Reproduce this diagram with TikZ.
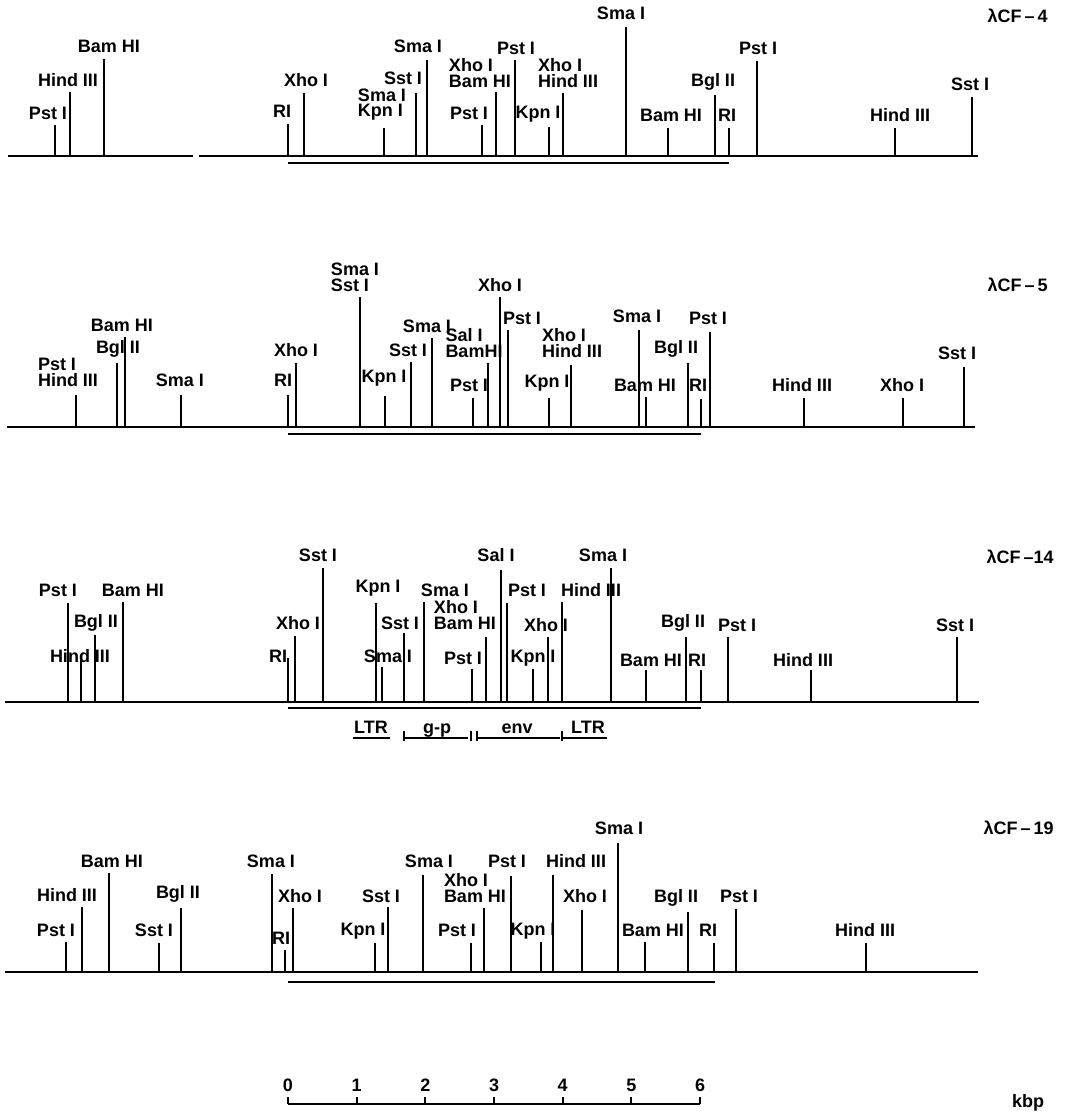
\documentclass[tikz,border=0pt]{standalone}
\usepackage{fontspec}
\setmainfont{Liberation Sans}
\begin{document}
\begin{tikzpicture}[x=0.5pt, y=-0.5pt,
  font={\bfseries\fontsize{9}{7.9}\selectfont},
  map/.style={line width=1.2pt},
  site/.style={line width=1pt},
  clone/.style={line width=0.9pt},
  enzyme/.style={anchor=south, inner sep=0pt, align=left},
  region/.style={anchor=base, inner sep=0pt},
  title/.style={anchor=east, inner sep=0pt}]
\useasboundingbox (0,0) rectangle (1065,1112);

% lambda CF-4
\draw[map] (8,156) -- (193,156) (199,156) -- (978,156);
\draw[clone] (288,163) -- (729,163);
\foreach \x/\t/\lx/\ly/\txt [count=\i] in {
  55/125/48/120/Pst I, 70/92/68/87/Hind III, 104/59/109/53/Bam HI,
  288/124/282/118/RI, 304/93/306/87/Xho I, 384/128/382/121/{Sma I\\Kpn I},
  416/93/403/85/Sst I, 427/60/418/53/Sma I, 482/125/469/120/Pst I,
  496/92/480/88/{Xho I\\Bam HI}, 515/60/516/55/Pst I, 549/127/538/123/Kpn I,
  563/93/568/88/{Xho I\\Hind III}, 626/27/621/20/Sma I, 668/128/671/122/Bam HI,
  715/95/713/91/Bgl II, 729/128/727/122/RI, 757/61/758/55/Pst I,
  895/128/900/122/Hind III, 972/97/970/91/Sst I}{
  \draw[site] (\x,156) -- (\x,\t);
  \node[enzyme] (a\i) at (\lx,\ly) {\txt};
}
\node[title] (cf4) at (1048,16) {λCF\,–\,4};

% lambda CF-5
\draw[map] (7,427) -- (975,427);
\draw[clone] (288,434) -- (701,434);
\foreach \x/\t/\lx/\ly/\txt [count=\i] in {
  76/395/68/387/{Pst I\\Hind III}, 117/363/118/358/Bgl II, 125/337/122/332/Bam HI,
  181/395/180/387/Sma I, 288/395/283/387/RI, 296/363/296/357/Xho I,
  360/297/355/292/{Sma I\\Sst I}, 385/396/384/387/Kpn I, 411/362/408/357/Sst I,
  432/338/427/333/Sma I, 473/398/469/392/Pst I, 488/363/474/358/{Sal I\\BamHI},
  500/297/500/292/Xho I, 508/330/522/325/Pst I, 549/398/547/392/Kpn I,
  571/365/572/358/{Xho I\\Hind III}, 639/330/637/323/Sma I, 646/397/645/392/Bam HI,
  688/363/676/358/Bgl II, 701/399/698/392/RI, 710/332/708/325/Pst I,
  804/398/802/392/Hind III, 903/398/902/392/Xho I, 964/367/957/360/Sst I}{
  \draw[site] (\x,427) -- (\x,\t);
  \node[enzyme] (b\i) at (\lx,\ly) {\txt};
}
\node[title] (cf5) at (1048,285) {λCF\,–\,5};

% lambda CF-14
\draw[map] (5,702) -- (979,702);
\draw[clone] (288,708) -- (701,708);
\foreach \x/\t/\lx/\ly/\txt [count=\i] in {
  68/603/58/597/Pst I, 81/658/80/663/Hind III, 95/635/96/632/Bgl II,
  123/602/133/597/Bam HI, 288/658/278/663/RI, 295/636/298/630/Xho I,
  323/568/318/562/Sst I, 376/603/378/597/Kpn I, 382/667/388/663/Sma I,
  404/633/400/630/Sst I, 424/602/445/597/Sma I, 486/637/465/630/{Xho I\\Bam HI},
  472/669/463/665/Pst I, 501/570/496/562/Sal I, 507/603/527/597/Pst I,
  533/669/533/667/Kpn I, 548/637/546/632/Xho I, 562/602/591/597/Hind III,
  611/568/603/562/Sma I, 646/670/651/667/Bam HI, 686/637/683/632/Bgl II,
  701/670/697/667/RI, 728/637/737/632/Pst I, 811/670/803/667/Hind III,
  957/637/955/632/Sst I}{
  \draw[site] (\x,702) -- (\x,\t);
  \node[enzyme] (c\i) at (\lx,\ly) {\txt};
}
\node[title] (cf14) at (1054,557) {λCF\,–14};
% genome regions
\node[region] (ltr1) at (371,733) {LTR};
\node[region] (gp) at (437,733) {g-p};
\node[region] (env) at (517,733) {env};
\node[region] (ltr2) at (588,733) {LTR};
\draw[clone] (353,738) -- (390,738) (404,738) -- (468,738)
  (477,738) -- (560,738) (562,738) -- (607,738);
\foreach \g in {404,471,477,562}
  \draw[clone] (\g,731) -- (\g,741);

% lambda CF-19
\draw[map] (5,972) -- (978,972);
\draw[clone] (288,982) -- (715,982);
\foreach \x/\t/\lx/\ly/\txt [count=\i] in {
  66/942/56/937/Pst I, 82/907/67/902/Hind III, 109/873/112/868/Bam HI,
  159/943/154/937/Sst I, 181/908/178/903/Bgl II, 272/874/271/868/Sma I,
  285/950/281/945/RI, 293/908/300/903/Xho I, 375/943/363/940/Kpn I,
  388/907/381/903/Sst I, 423/875/429/868/Sma I, 471/943/457/937/Pst I,
  484/908/475/903/{Xho I\\Bam HI}, 511/876/507/868/Pst I, 541/942/533/940/Kpn I,
  553/875/576/868/Hind III, 582/910/585/903/Xho I, 618/843/619/835/Sma I,
  645/942/653/937/Bam HI, 688/912/676/907/Bgl II, 714/943/708/937/RI,
  736/909/739/903/Pst I, 866/943/865/937/Hind III}{
  \draw[site] (\x,972) -- (\x,\t);
  \node[enzyme] (d\i) at (\lx,\ly) {\txt};
}
\node[title] (cf19) at (1054,828) {λCF\,–\,19};

% scale
\draw[clone] (288,1104) -- (700,1104);
\foreach \k in {0,...,6}{
  \draw[clone] ({288+68.67*\k},1104) -- ({288+68.67*\k},1097);
  \node (k\k) at ({288+68.67*\k},1085) {\k};
}
\node (kbp) at (1028,1103) {kbp};
\end{tikzpicture}
\end{document}
